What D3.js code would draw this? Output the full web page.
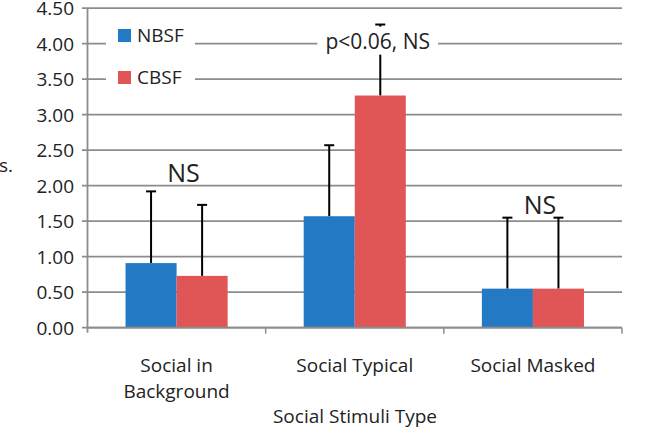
<!DOCTYPE html>
<html><head><meta charset="utf-8">
<script src="https://cdn.jsdelivr.net/npm/d3@7"></script>
<style>body{margin:0;background:#fff}svg{display:block}text{font-family:"Open Sans",sans-serif;fill:#222}</style>
</head><body><svg id="c" width="652" height="430"></svg>
<script>
const categories = [["Social in","Background"],["Social Typical"],["Social Masked"]];
const catKeys = ["Social in Background","Social Typical","Social Masked"];
const series = ["NBSF","CBSF"];
const nbsf = [0.91, 1.57, 0.55];
const cbsf = [0.73, 3.27, 0.55];
const nbsfErrTop = [1.92, 2.57, 1.55];
const cbsfErrTop = [1.73, 4.27, 1.55];
const yTicks = [0,0.5,1,1.5,2,2.5,3,3.5,4,4.5];
const annotations = [{cat:0, text:"NS", v:2.05, size:25, dx:7},{cat:1, text:"p<0.06, NS", v:3.93, size:21, dx:23, box:true},{cat:2, text:"NS", v:1.6, size:25, dx:7}];
const colors = {NBSF:"#2479C5", CBSF:"#E05656"};

const svg = d3.select("#c");
const y = d3.scaleLinear().domain([0,4.5]).range([327.7, 8.2]);
const x = d3.scaleBand().domain(catKeys).range([87.5, 622]).padding(0);
const x1 = d3.scaleBand().domain(series).range([0, x.bandwidth()]).paddingInner(0).paddingOuter(0.745);
const grid = "#8c8c8c";

// gridlines
svg.append("g").selectAll("line").data(yTicks).join("line")
  .attr("x1",82).attr("x2",622).attr("y1",d=>y(d)).attr("y2",d=>y(d))
  .attr("stroke",grid).attr("stroke-width",1.8);
// y axis labels
svg.append("g").selectAll("text").data(yTicks).join("text")
  .attr("x",74).attr("y",d=>y(d)).attr("dy","0.36em").attr("text-anchor","end")
  .attr("font-size",19).text(d=>d.toFixed(2));
// y axis line
svg.append("line").attr("x1",87.5).attr("x2",87.5).attr("y1",y(4.5)).attr("y2",y(0)+5).attr("stroke",grid).attr("stroke-width",1.8);
// x axis ticks
svg.append("g").selectAll("line").data(catKeys).join("line")
  .attr("x1",d=>x(d)+x.bandwidth()).attr("x2",d=>x(d)+x.bandwidth())
  .attr("y1",y(0)).attr("y2",y(0)+6).attr("stroke",grid).attr("stroke-width",1.5);

const data = series.map(s=>({s, vals: s==="NBSF"?nbsf:cbsf, err: s==="NBSF"?nbsfErrTop:cbsfErrTop}));
data.forEach(d=>{
  const g = svg.append("g");
  g.selectAll("line").data(catKeys).join("line")
    .attr("x1",(c)=>x(c)+x1(d.s)+x1.bandwidth()/2).attr("x2",(c)=>x(c)+x1(d.s)+x1.bandwidth()/2)
    .attr("y1",(c,i)=>y(d.vals[i])).attr("y2",(c,i)=>y(d.err[i])).attr("stroke","#000").attr("stroke-width",2);
  g.selectAll("path").data(catKeys).join("path")
    .attr("d",(c,i)=>{const cx=x(c)+x1(d.s)+x1.bandwidth()/2;return `M${cx-5},${y(d.err[i])}H${cx+5}`;})
    .attr("stroke","#000").attr("stroke-width",2);
  g.selectAll("rect").data(catKeys).join("rect")
    .attr("x",c=>x(c)+x1(d.s)).attr("width",x1.bandwidth())
    .attr("y",(c,i)=>y(d.vals[i])).attr("height",(c,i)=>y(0)-y(d.vals[i]))
    .attr("fill",colors[d.s]);
});
// x axis line
svg.append("line").attr("x1",87.5).attr("x2",622).attr("y1",y(0)).attr("y2",y(0)).attr("stroke",grid).attr("stroke-width",1.8);

// category labels
catKeys.forEach((c,i)=>{
  const t = svg.append("text").attr("text-anchor","middle").attr("font-size",19)
    .attr("x",x(c)+x.bandwidth()/2).attr("y",372);
  categories[i].forEach((ln,j)=>t.append("tspan").attr("x",x(c)+x.bandwidth()/2).attr("dy",j?26:0).text(ln));
});
svg.append("text").attr("x",355).attr("y",423).attr("text-anchor","middle").attr("font-size",19).text("Social Stimuli Type");
// clipped y label
svg.append("text").attr("x",13).attr("y",172).attr("text-anchor","end").attr("font-size",19).text("s.");

// legend
svg.append("rect").attr("x",106).attr("y",14).attr("width",89).attr("height",86).attr("fill","#fff");
series.forEach((s,i)=>{
  svg.append("rect").attr("x",118).attr("y",29+i*42).attr("width",13).attr("height",13).attr("fill",colors[s]);
  svg.append("text").attr("x",137).attr("y",42+i*42).attr("font-size",19).text(s);
});

// annotations
annotations.forEach(a=>{
  const cx = x(catKeys[a.cat]) + x.bandwidth()/2 + a.dx;
  const t = svg.append("text").attr("x",cx).attr("y",y(a.v)).attr("text-anchor","middle").attr("font-size",a.size).text(a.text);
  if(a.box){
    const b = t.node().getBBox();
    svg.insert("rect", () => t.node()).attr("x",b.x-8).attr("y",b.y).attr("width",b.width+16).attr("height",b.height).attr("fill","#fff");
  }
});
</script></body></html>
